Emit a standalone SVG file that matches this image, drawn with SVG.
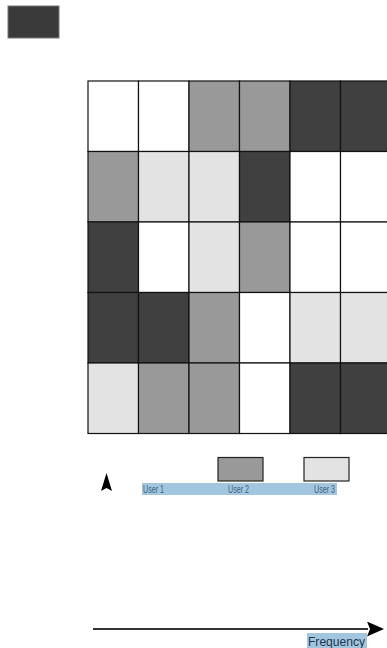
<svg xmlns="http://www.w3.org/2000/svg" width="387" height="648" viewBox="0 0 387 648">
<defs>
<style>
.c{stroke:#111;stroke-width:1.2}
.W{fill:#ffffff}.M{fill:#999999}.L{fill:#e3e3e3}.D{fill:#404040}
.u{font-family:"Liberation Sans",sans-serif;font-size:10px;fill:#3d5f80}
</style>
<marker id="ah" markerWidth="17" markerHeight="15" refX="1" refY="7.5" orient="auto" markerUnits="userSpaceOnUse"><path d="M0,0 L17,7.5 L0,15 L3,7.5 Z" fill="#000"/></marker>
</defs>
<rect width="387" height="648" fill="#fff"/>
<g id="legend-top"><rect x="8" y="6" width="51" height="32" fill="#3a3a3a" stroke="#777" stroke-width="1"/></g>
<g id="grid">
<g id="r1"><rect class="c W" x="88" y="81" width="50.5" height="70.5"/><rect class="c W" x="138.5" y="81" width="50.5" height="70.5"/><rect class="c M" x="189" y="81" width="50.5" height="70.5"/><rect class="c M" x="239.5" y="81" width="50.5" height="70.5"/><rect class="c D" x="290" y="81" width="50.5" height="70.5"/><rect class="c D" x="340.5" y="81" width="50.5" height="70.5"/></g>
<g id="r2"><rect class="c M" x="88" y="151.5" width="50.5" height="70.5"/><rect class="c L" x="138.5" y="151.5" width="50.5" height="70.5"/><rect class="c L" x="189" y="151.5" width="50.5" height="70.5"/><rect class="c D" x="239.5" y="151.5" width="50.5" height="70.5"/><rect class="c W" x="290" y="151.5" width="50.5" height="70.5"/><rect class="c W" x="340.5" y="151.5" width="50.5" height="70.5"/></g>
<g id="r3"><rect class="c D" x="88" y="222" width="50.5" height="70.5"/><rect class="c W" x="138.5" y="222" width="50.5" height="70.5"/><rect class="c L" x="189" y="222" width="50.5" height="70.5"/><rect class="c M" x="239.5" y="222" width="50.5" height="70.5"/><rect class="c W" x="290" y="222" width="50.5" height="70.5"/><rect class="c W" x="340.5" y="222" width="50.5" height="70.5"/></g>
<g id="r4"><rect class="c D" x="88" y="292.5" width="50.5" height="70.5"/><rect class="c D" x="138.5" y="292.5" width="50.5" height="70.5"/><rect class="c M" x="189" y="292.5" width="50.5" height="70.5"/><rect class="c W" x="239.5" y="292.5" width="50.5" height="70.5"/><rect class="c L" x="290" y="292.5" width="50.5" height="70.5"/><rect class="c L" x="340.5" y="292.5" width="50.5" height="70.5"/></g>
<g id="r5"><rect class="c L" x="88" y="363" width="50.5" height="70.5"/><rect class="c M" x="138.5" y="363" width="50.5" height="70.5"/><rect class="c M" x="189" y="363" width="50.5" height="70.5"/><rect class="c W" x="239.5" y="363" width="50.5" height="70.5"/><rect class="c D" x="290" y="363" width="50.5" height="70.5"/><rect class="c D" x="340.5" y="363" width="50.5" height="70.5"/></g>
</g>
<g id="up-arrow"><path d="M106.5,473 L112,491 L106.5,488 L101,491 Z" fill="#000"/></g>
<g id="users">
<rect x="142" y="483" width="195" height="12" fill="#a3c6df"/>
<text class="u" x="143" y="493" textLength="21" lengthAdjust="spacingAndGlyphs">User 1</text>
<text class="u" x="228" y="493" textLength="21" lengthAdjust="spacingAndGlyphs">User 2</text>
<text class="u" x="314" y="493" textLength="21" lengthAdjust="spacingAndGlyphs">User 3</text>
</g>
<g id="legend-user2"><rect x="218" y="457.5" width="45" height="23.5" fill="#999999" stroke="#222" stroke-width="1.2"/></g>
<g id="legend-user3"><rect x="304" y="457.5" width="45" height="23.5" fill="#e3e3e3" stroke="#222" stroke-width="1.2"/></g>
<g id="connectors">
<line x1="93" y1="629" x2="368" y2="629" stroke="#333" stroke-width="2" marker-end="url(#ah)"/>
</g>
<g id="frequency">
<rect x="307" y="633" width="60" height="15" fill="#a3c6df"/>
<text x="308" y="646" font-family="'Liberation Sans',sans-serif" font-size="13" fill="#1f3550" textLength="57" lengthAdjust="spacingAndGlyphs">Frequency</text>
</g>
</svg>
